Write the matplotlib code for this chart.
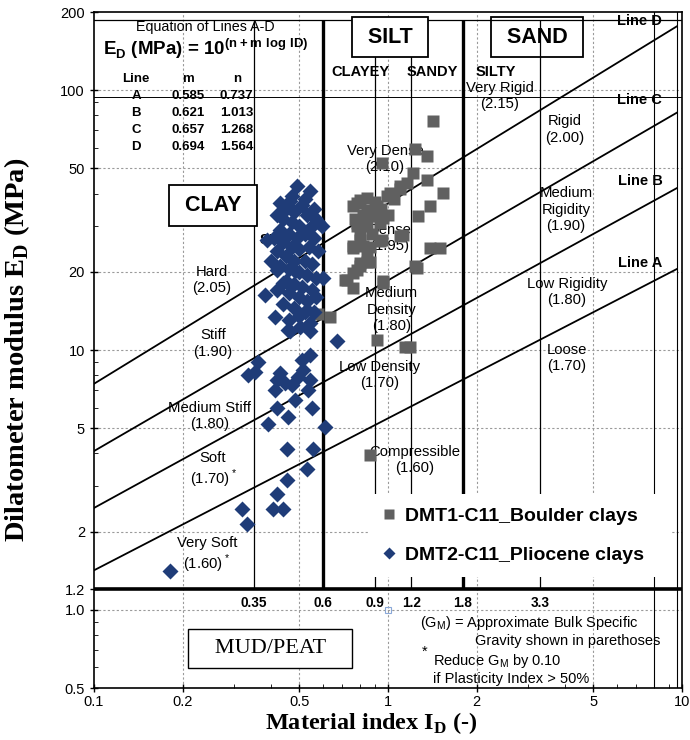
import numpy as np
import matplotlib
matplotlib.use('Agg')
import matplotlib.pyplot as plt

plt.rcParams['font.family'] = ['Liberation Sans', 'DejaVu Sans']
plt.rcParams['mathtext.fontset'] = 'custom'
plt.rcParams['mathtext.rm'] = 'Liberation Sans'
plt.rcParams['mathtext.bf'] = 'Liberation Sans:bold'

# ---------------- data ----------------
line_names = ['A', 'B', 'C', 'D']
line_m = [0.585, 0.621, 0.657, 0.694]
line_n = [0.737, 1.013, 1.268, 1.564]

boundary_thick = [0.6, 1.8]
boundary_thin = [0.35, 0.9, 1.2, 3.3]
boundary_vals = [0.35, 0.6, 0.9, 1.2, 1.8, 3.3]
boundary_labels = ['0.35', '0.6', '0.9', '1.2', '1.8', '3.3']

x_ticks = [0.1, 0.2, 0.5, 1, 2, 5, 10]
x_ticklabels = ['0.1', '0.2', '0.5', '1', '2', '5', '10']
y_ticks = [0.5, 1.0, 1.2, 2, 5, 10, 20, 50, 100, 200]
y_ticklabels = ['0.5', '1.0', '1.2', '2', '5', '10', '20', '50', '100', '200']

# DMT1-C11 Boulder clays (ID, ED)
boulder_id = [1.426, 1.235, 1.354, 0.952, 1.219, 1.354, 1.158, 1.099, 1.542, 1.016,
              1.389, 1.268, 0.803, 0.762, 0.847, 0.891, 0.772, 0.939, 0.783, 1.099,
              0.939, 0.762, 0.824, 1.389, 1.503, 0.847, 0.803, 1.235, 0.762, 0.723,
              0.964, 0.847, 0.783, 0.915, 0.990, 1.099, 0.964, 0.783, 0.762, 0.847,
              0.803, 0.783, 0.714, 0.964, 0.580, 0.635, 0.915, 1.142, 1.127, 0.952,
              1.252, 0.869, 1.188, 0.869, 0.762, 0.80, 0.85, 0.88, 0.82, 0.90,
              0.95, 0.87, 0.80, 1.00, 1.05]
boulder_ed = [76.1, 59.2, 55.8, 52.6, 48.1, 45.3, 44.0, 42.7, 40.3, 40.3,
              35.7, 32.7, 37.9, 35.7, 34.7, 32.7, 31.8, 30.9, 29.9, 27.4,
              26.2, 25.1, 25.1, 24.7, 24.7, 21.9, 21.0, 21.0, 19.8, 18.6,
              18.4, 38.5, 36.8, 35.7, 39.1, 41.5, 32.3, 30.9, 24.7, 23.6,
              21.6, 20.4, 18.6, 18.1, 13.7, 13.4, 10.9, 10.3, 27.8, 26.6,
              20.7, 21.9, 10.3, 3.93, 17.3, 28.0, 30.0, 28.0, 33.0, 37.0,
              35.0, 25.0, 26.5, 33.0, 38.0]

# DMT2-C11 Pliocene clays (ID, ED)
plio_id = [0.182, 0.318, 0.331, 0.407, 0.440, 0.418, 0.452, 0.529, 0.452, 0.557,
           0.611, 0.392, 0.458, 0.418, 0.550, 0.483, 0.413, 0.536, 0.418, 0.446,
           0.470, 0.429, 0.496, 0.515, 0.543, 0.353, 0.335, 0.362, 0.509, 0.543,
           0.669, 0.464, 0.543,
           0.489, 0.543, 0.429, 0.464, 0.387, 0.418, 0.382, 0.413, 0.458, 0.502,
           0.543, 0.603, 0.595, 0.565, 0.483, 0.440, 0.529,
           0.45, 0.48, 0.51, 0.53, 0.44, 0.47, 0.50, 0.55, 0.43, 0.46,
           0.49, 0.52, 0.56, 0.44, 0.47, 0.50, 0.54, 0.58, 0.42, 0.45,
           0.48, 0.52, 0.55, 0.43, 0.46, 0.50, 0.53, 0.57, 0.45, 0.48,
           0.51, 0.55, 0.42, 0.46, 0.50, 0.53, 0.57, 0.44, 0.48, 0.52,
           0.56, 0.46, 0.50, 0.47, 0.52, 0.56, 0.58, 0.40, 0.41, 0.42]
plio_ed = [1.41, 2.45, 2.13, 2.45, 2.45, 2.80, 3.15, 3.49, 4.17, 4.17,
           5.06, 5.21, 5.53, 5.96, 5.96, 6.41, 7.01, 7.01, 7.66, 7.44,
           7.33, 8.13, 7.89, 8.37, 7.66, 8.25, 8.01, 9.01, 9.15, 9.57,
           10.8, 11.8, 11.8,
           42.7, 40.8, 36.8, 37.4, 26.6, 20.4, 16.3, 13.4, 11.9, 12.3,
           12.7, 18.9, 29.9, 32.3, 20.1, 18.1, 14.3,
           35, 34, 36, 33, 32, 31, 30, 30, 29, 28,
           27, 28, 27, 26, 25, 24.5, 25, 24, 24, 23,
           22, 22, 21.5, 21, 20.5, 20, 19.5, 19, 18.5, 18,
           17.5, 17, 17, 16.5, 16, 15.5, 16, 15, 14.5, 14,
           14, 13, 13.5, 39, 38, 35, 31, 22, 27, 33]

# ---------------- figure ----------------
fig = plt.figure(figsize=(6.9, 7.4), dpi=100)
ax = fig.add_axes([94/690, 52/740, 588/690, 676/740])
ax.set_xscale('log')
ax.set_yscale('log')
ax.set_xlim(0.1, 10)
ax.set_ylim(0.5, 200)

grid_kw = dict(color='#9a9a9a', lw=0.8, ls=(0, (2, 2)), zorder=1)
for gx in [0.2, 0.5, 1, 2, 5]:
    ax.axvline(gx, **grid_kw)
for gy in [1, 2, 5, 10, 20, 50, 100]:
    ax.axhline(gy, **grid_kw)

# scanned chart frame lines
ax.axhline(186, color='black', lw=0.9, zorder=2)
ax.axhline(94, color='black', lw=0.7, zorder=2)
ax.axvline(8.0, color='black', lw=0.8, zorder=2)
ax.axvline(9.6, color='black', lw=0.8, zorder=2)

# lines A-D
xl = np.array([0.1, 9.6])
for name, m, n in zip(line_names, line_m, line_n):
    ax.plot(xl, 10 ** (n + m * np.log10(xl)), color='black', lw=1.3, zorder=2)

ax.axhline(1.2, color='black', lw=2.6, zorder=2)
ax.vlines(boundary_thick, 1.2, 186, color='black', lw=2.4, zorder=2)
ax.vlines(boundary_thin, 1.2, 186, color='black', lw=0.9, zorder=2)

# ---------------- text ----------------
T = dict(ha='center', va='center', fontsize=10.7, zorder=3)
ax.text(0.239, 175, 'Equation of Lines A-D', **{**T, 'fontsize': 10.3})
ax.text(0.240, 144, r'E$_\mathbf{D}$ (MPa) = 10$^\mathbf{(n + m\ log\ ID)}$',
        **{**T, 'fontsize': 13.5, 'fontweight': 'bold'})
tb = {**T, 'fontsize': 9.5, 'fontweight': 'bold'}
ax.text(0.139, 110, 'Line', **tb)
ax.text(0.209, 110, 'm', **tb)
ax.text(0.306, 110, 'n', **tb)
for yy, name, m, n in zip([94.8, 81.5, 70.1, 60.2], line_names, line_m, line_n):
    ax.text(0.139, yy, name, **tb)
    ax.text(0.209, yy, f'{m:.3f}', **tb)
    ax.text(0.306, yy, f'{n:.3f}', **tb)

box_kw = dict(boxstyle='square,pad=0.45', fc='white', ec='black', lw=1.3)
bigb = {**T, 'fontsize': 15.5, 'fontweight': 'bold'}
ax.text(0.254, 36.0, ' CLAY ', **bigb, bbox=box_kw)
ax.text(1.016, 160, ' SILT ', **bigb, bbox=box_kw)
ax.text(3.21, 160, ' SAND ', **bigb,
        bbox=dict(boxstyle='square,pad=0.45', fc='none', ec='black', lw=1.3))

sb = {**T, 'fontsize': 10.5, 'fontweight': 'bold'}
ax.text(0.809, 118, 'CLAYEY', **sb)
ax.text(1.41, 118, 'SANDY', **sb)
ax.text(2.33, 118, 'SILTY', **sb)
ax.text(0.365, 26.6, 'SILTY', **{**sb, 'ha': 'left', 'zorder': 2.5})
for yy, name in zip([21.7, 44.6, 91.4, 184], line_names):
    ax.text(7.19, yy, f'Line {name}', **sb)

ax.text(2.40, 94.8, 'Very Rigid\n(2.15)', **T)
ax.text(4.0, 70.6, 'Rigid\n(2.00)', **T)
ax.text(4.03, 34.7, 'Medium\nRigidity\n(1.90)', **T)
ax.text(4.06, 16.7, 'Low Rigidity\n(1.80)', **T)
ax.text(4.06, 9.31, 'Loose\n(1.70)', **T)
ax.text(0.977, 54.2, 'Very Dense\n(2.10)', **T)
ax.text(1.016, 27.0, 'Dense\n(1.95)', **T)
ax.text(1.03, 14.3, 'Medium\nDensity\n(1.80)', **T)
ax.text(0.939, 8.01, 'Low Density\n(1.70)', **T)
ax.text(1.235, 3.76, 'Compressible\n(1.60)', **T)
ax.text(0.252, 18.6, 'Hard\n(2.05)', **T)
ax.text(0.254, 10.6, 'Stiff\n(1.90)', **T)
ax.text(0.248, 5.56, 'Medium Stiff\n(1.80)', **T)
ax.text(0.254, 3.44, 'Soft\n(1.70)$^*$', **T)
ax.text(0.242, 1.62, 'Very Soft\n(1.60)$^*$', **T)

for bx, bl in zip(boundary_vals, boundary_labels):
    ax.text(bx, 1.065, bl, **{**sb, 'fontsize': 9.8})

ax.text(0.397, 0.707, '   MUD/PEAT   ', ha='center', va='center', fontsize=16,
        family='Liberation Serif', zorder=3,
        bbox=dict(boxstyle='square,pad=0.45', fc='white', ec='black', lw=1.0))
nt = dict(fontsize=10.5, ha='left', va='center', zorder=3)
ax.text(1.285, 0.891, r'(G$_\mathregular{M}$) = Approximate Bulk Specific', **nt)
ax.text(1.977, 0.759, 'Gravity shown in parethoses', **nt)
ax.text(1.30, 0.690, '*', **nt)
ax.text(1.42, 0.636, r'Reduce G$_\mathregular{M}$ by 0.10', **nt)
ax.text(1.42, 0.542, 'if Plasticity Index > 50%', **nt)

# ---------------- data points ----------------
h1, = ax.plot(boulder_id, boulder_ed, ls='none', marker='s', ms=8.5,
              color='#606060', mec='none', zorder=4, label='DMT1-C11_Boulder clays')
h2, = ax.plot(plio_id, plio_ed, ls='none', marker='D', ms=7.8,
              color='#1f3c78', mec='none', zorder=4, label='DMT2-C11_Pliocene clays')
ax.plot([1.0], [1.0], ls='none', marker='s', ms=4, mfc='none', mec='#8aa8d8',
        mew=0.8, zorder=4)

leg = ax.legend(handles=[h1, h2], loc='upper left',
                bbox_to_anchor=(0.449, 0.302, 0.551, 0.0), mode='expand',
                frameon=True, fancybox=False, framealpha=1, facecolor='white',
                edgecolor='none', prop={'weight': 'bold', 'size': 14},
                labelspacing=1.1, handlelength=0.8, handletextpad=0.4,
                borderpad=0.7, markerscale=0.8)
leg.set_zorder(6)

# ---------------- axes ----------------
ax.set_xticks(x_ticks)
ax.set_xticklabels(x_ticklabels)
ax.set_yticks(y_ticks)
ax.set_yticklabels(y_ticklabels)
ax.tick_params(axis='both', which='major', direction='inout', length=6,
               labelsize=10.5, width=1)
ax.tick_params(axis='x', which='major', pad=2)
ax.tick_params(axis='both', which='minor', direction='in', length=3)
ax.yaxis.set_minor_formatter(matplotlib.ticker.NullFormatter())
ax.xaxis.set_minor_formatter(matplotlib.ticker.NullFormatter())
for s in ax.spines.values():
    s.set_linewidth(1.2)

ax.set_xlabel(r'Material index I$_\mathregular{D}$ (-)', family='Liberation Serif',
              fontweight='bold', fontsize=17.5)
ax.xaxis.set_label_coords(0.471, -0.032)
ax.set_ylabel(r'Dilatometer modulus E$_\mathregular{D}$ (MPa)', family='Liberation Serif',
              fontweight='bold', fontsize=20.5)
ax.yaxis.set_label_coords(-0.106, 0.5)

fig.savefig('out.png', dpi=100)
